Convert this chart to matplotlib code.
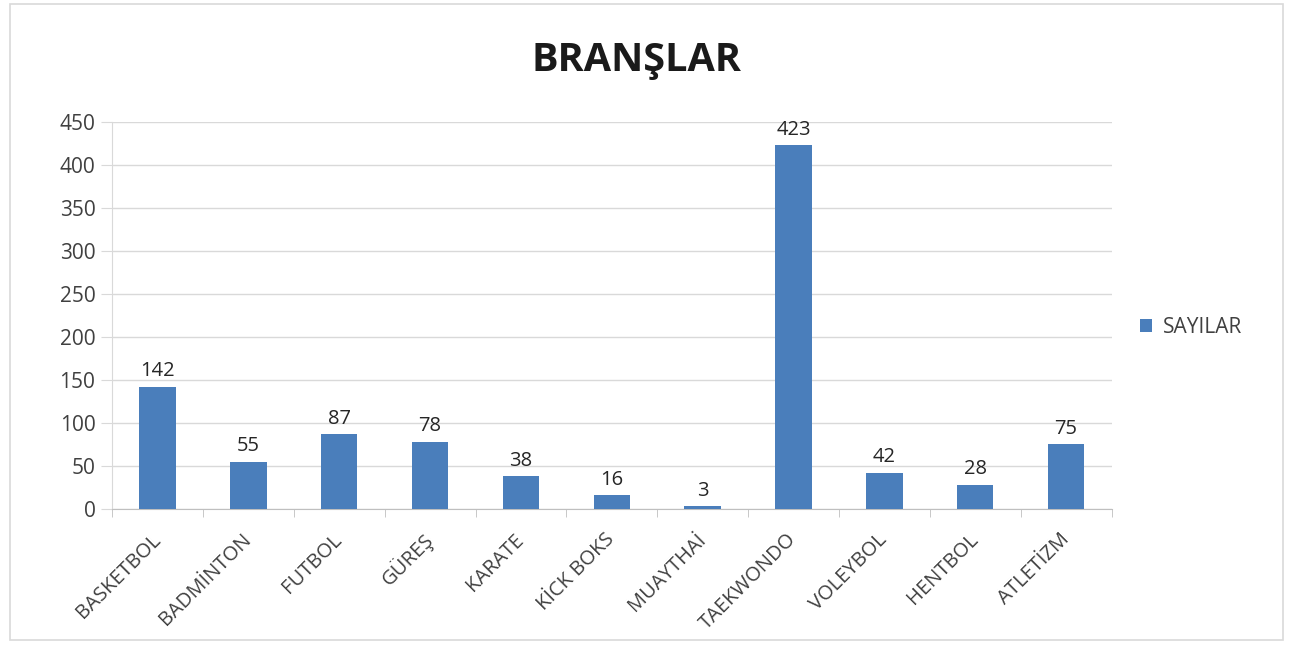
import matplotlib.pyplot as plt
from matplotlib.patches import Rectangle
import numpy as np

plt.rcParams['font.family'] = ['Open Sans', 'DejaVu Sans']

# Data
branslar = ['BASKETBOL', 'BADMİNTON', 'FUTBOL', 'GÜREŞ', 'KARATE', 'KİCK BOKS',
            'MUAYTHAİ', 'TAEKWONDO', 'VOLEYBOL', 'HENTBOL', 'ATLETİZM']
sayilar = [142, 55, 87, 78, 38, 16, 3, 423, 42, 28, 75]
yticks = [0, 50, 100, 150, 200, 250, 300, 350, 400, 450]

bar_color = '#4a7ebb'
text_color = '#404040'

fig = plt.figure(figsize=(12.91, 6.57), dpi=100)
ax = fig.add_axes([0.0868, 0.2253, 0.7742, 0.589])

# outer chart border
fig.patches.append(Rectangle((0.008, 0.026), 0.986, 0.968, transform=fig.transFigure,
                             fill=False, edgecolor='#d9d9d9', linewidth=1.2))

x = np.arange(len(branslar))
ax.bar(x, sayilar, width=0.4, color=bar_color, label='SAYILAR', zorder=3)
for xi, v in zip(x, sayilar):
    ax.annotate(str(v), (xi, v), xytext=(0, 4), textcoords='offset points',
                ha='center', va='bottom', fontsize=14.5, color='#262626')

ax.set_xlim(-0.5, len(branslar) - 0.5)
ax.set_ylim(0, 450)
ax.set_yticks(yticks)
ax.set_yticklabels([str(t) for t in yticks], fontsize=15, color=text_color)
ax.yaxis.grid(True, color='#d9d9d9', linewidth=1, zorder=0)
ax.tick_params(axis='y', length=8, color='#d9d9d9', pad=4)

ax.set_xticks(x)
ax.set_xticklabels(branslar, rotation=45, ha='right', va='center',
                   rotation_mode='anchor', fontsize=14.5, color=text_color)
ax.set_xticks(np.arange(-0.5, len(branslar)), minor=True)
ax.tick_params(axis='x', which='major', length=0, pad=20)
ax.tick_params(axis='x', which='minor', length=6, color='#bfbfbf')

for s in ['top', 'right']:
    ax.spines[s].set_visible(False)
ax.spines['left'].set_color('#d9d9d9')
ax.spines['bottom'].set_color('#bfbfbf')

fig.text(0.493, 0.908, 'BRANŞLAR', ha='center', va='center', fontsize=28.5,
         fontweight='bold', color='#1a1a1a')

ax.legend(loc='center left', bbox_to_anchor=(1.018, 0.47), frameon=False,
          fontsize=15, handlelength=0.6, handleheight=0.6, handletextpad=0.5,
          borderpad=0, labelcolor=text_color)

fig.savefig('out.png', dpi=100, facecolor='white')
